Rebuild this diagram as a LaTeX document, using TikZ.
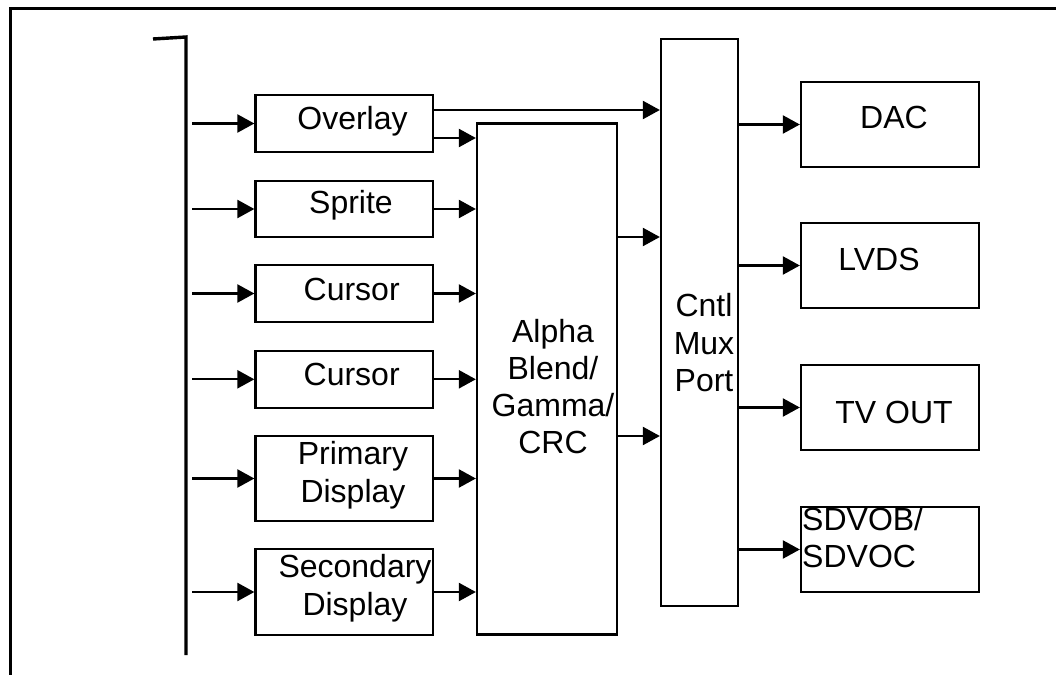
\documentclass[tikz,border=0pt]{standalone}
\usepackage{fontspec}
\setmainfont{Liberation Sans}
\usetikzlibrary{arrows.meta}
\begin{document}
\begin{tikzpicture}[x=1bp,y=-1bp,
  box/.style={draw, line width=2.3bp, minimum width=177.5bp, inner sep=0pt},
  rbox/.style={draw, line width=2.3bp, minimum width=178bp, minimum height=85bp, inner sep=0pt},
  lbl/.style={font=\fontsize{32bp}{38.5bp}\selectfont, inner sep=0pt, anchor=base, align=center},
  arr/.style={line width=2.3bp, -{Triangle[length=17bp,width=18bp]}},
  frameline/.style={line width=3bp},
  busline/.style={line width=3.4bp}]
\useasboundingbox (0,0) rectangle (1056,675);
% outer frame
\draw[frameline] (10,680) -- (10,9) -- (1060,9);
% bus
\coordinate (bushook) at (153,39);
\coordinate (bustop) at (186,37);
\coordinate (busbot) at (186,655);
\coordinate (bus) at (192,0);
\draw[busline] (bushook) -- (bustop) -- (busbot);
% left boxes
\node[box, minimum height=57bp] (ov) at (344.25,123.5) {};
\node[box, minimum height=56bp] (sp) at (344.25,209) {};
\node[box, minimum height=57bp] (cu1) at (344.25,293.5) {};
\node[box, minimum height=57bp] (cu2) at (344.25,379.3) {};
\node[box, minimum height=85bp] (pd) at (344.25,478.5) {};
\node[box, minimum height=86bp] (sd) at (344.25,592) {};
% middle boxes
\node[draw, line width=2.3bp, minimum width=140bp, minimum height=511bp, inner sep=0pt] (alpha) at (547,379) {};
\node[draw, line width=2.3bp, minimum width=77bp, minimum height=567bp, inner sep=0pt] (cntl) at (699.5,322.5) {};
% right boxes
\node[rbox] (dac) at (890,124.5) {};
\node[rbox] (lvds) at (890,265.5) {};
\node[rbox] (tv) at (890,407.5) {};
\node[rbox] (sdvo) at (890,549.5) {};
% labels (multi-line nodes: base = last line)
\node[lbl] (ovt) at (352.5,130) {Overlay};
\node[lbl] (spt) at (351,213) {Sprite};
\node[lbl] (cu1t) at (351.7,300.7) {Cursor};
\node[lbl] (cu2t) at (351.7,385.7) {Cursor};
\node[lbl] (pdt) at (353,502.7) {Primary\\Display};
\node[lbl] (sdt) at (355,615.7) {Secondary\\Display};
\node[lbl, font=\fontsize{32bp}{37bp}\selectfont] (alphat) at (553,453) {Alpha\\Blend/\\Gamma/\\CRC};
\node[lbl, font=\fontsize{32bp}{37.5bp}\selectfont] (cntlt) at (704,391.7) {Cntl\\Mux\\Port};
\node[lbl] (dact) at (894,128.3) {DAC};
\node[lbl] (lvdst) at (879,270) {LVDS};
\node[lbl] (tvt) at (894,423.3) {TV OUT};
\node[lbl, anchor=base west, align=left, font=\fontsize{32bp}{36.5bp}\selectfont] (sdvot) at (802,567) {SDVOB/\\SDVOC};
% bus to left boxes
\foreach \n in {ov,sp,cu1,cu2,pd,sd}
  \draw[arr] (\n.west -| bus) -- (\n.west);
% left boxes to alpha
\draw[arr] (ov.east |- 0,138) -- (alpha.west |- 0,138);
\foreach \n in {sp,cu1,cu2,pd,sd}
  \draw[arr] (\n.east) -- (\n.east -| alpha.west);
% overlay to cntl
\draw[arr] (ov.east |- 0,110) -- (cntl.west |- 0,110);
% alpha to cntl
\draw[arr] (alpha.east |- 0,237) -- (cntl.west |- 0,237);
\draw[arr] (alpha.east |- 0,436) -- (cntl.west |- 0,436);
% cntl to outputs
\foreach \n in {dac,lvds,tv,sdvo}
  \draw[arr] (\n.west -| cntl.east) -- (\n.west);
\end{tikzpicture}
\end{document}
